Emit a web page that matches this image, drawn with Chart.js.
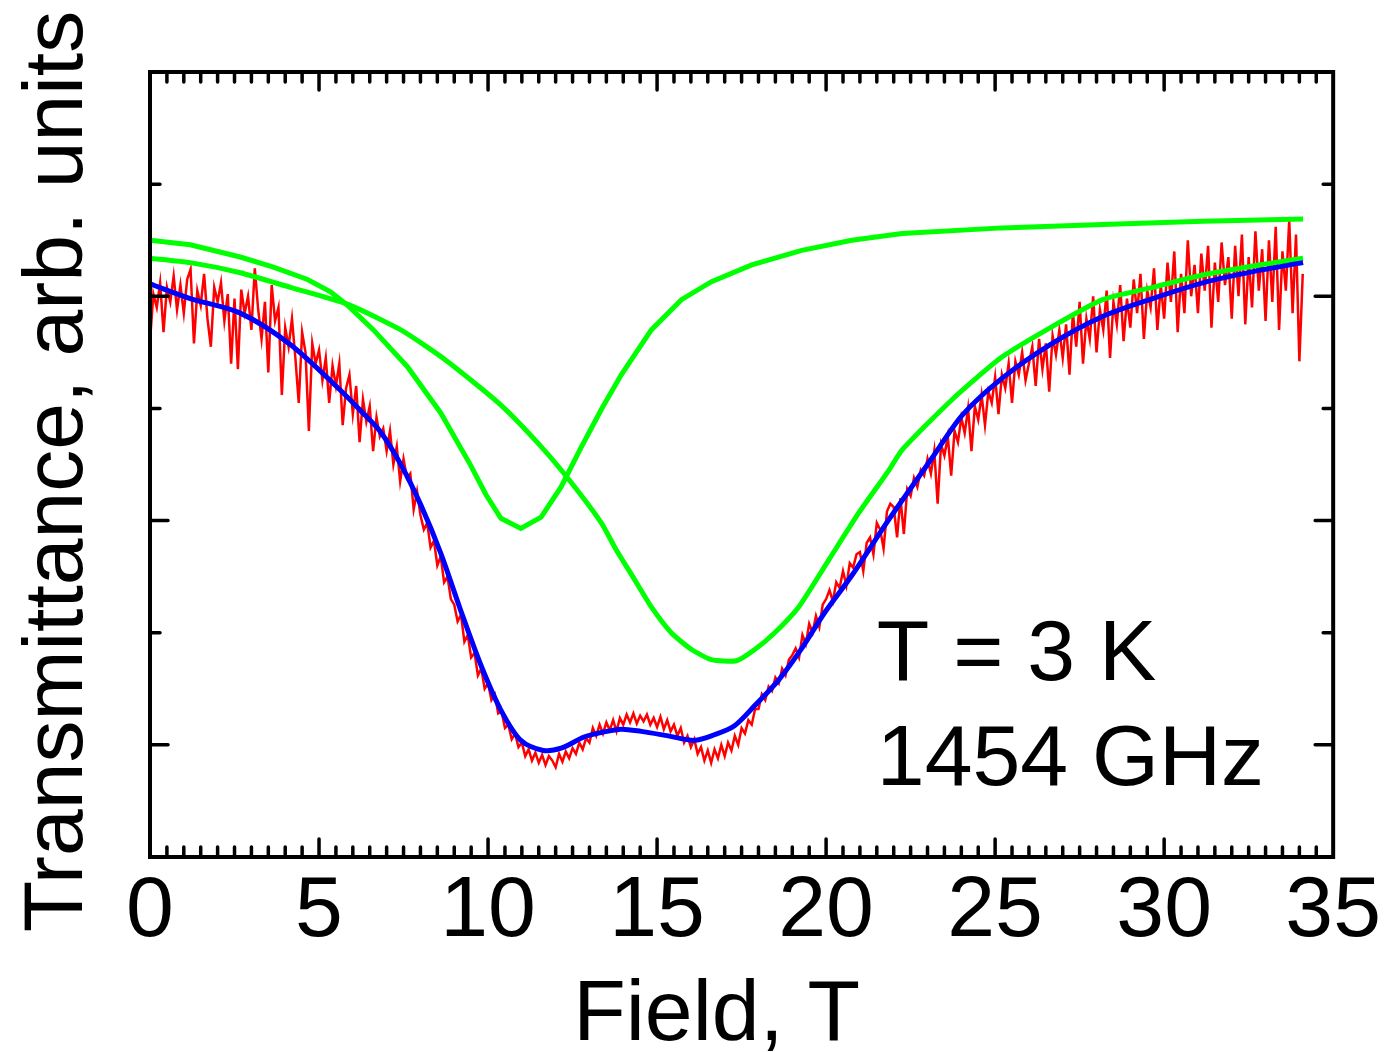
<!DOCTYPE html>
<html>
<head>
<meta charset="utf-8">
<script src="https://cdn.jsdelivr.net/npm/chart.js@4.4.1/dist/chart.umd.min.js"></script>
<style>
  html, body { margin: 0; padding: 0; background: #fff; }
  #wrap { width: 1385px; height: 1052px; }
</style>
</head>
<body>
<div id="wrap"><canvas id="chart"></canvas></div>
<script>
// measured transmittance, sampled every 0.1 T from 0 T
const measuredStart = 0
const measuredStep = 0.1
const measuredValue = [
  4.60, 5.02, 4.90, 5.12, 4.68, 5.08, 4.95, 5.18, 4.88, 5.10,
  4.85, 5.15, 5.24, 4.58, 5.05, 4.92, 5.20, 4.80, 4.55, 5.08,
  4.95, 5.12, 4.78, 5.02, 4.40, 4.98, 4.35, 5.06, 4.85, 5.00,
  4.70, 5.25, 4.88, 4.62, 4.95, 4.32, 5.10, 4.78, 4.90, 4.12,
  4.72, 4.55, 4.80, 4.45, 4.05, 4.68, 4.50, 3.80, 4.58, 4.40,
  4.52, 4.25, 4.45, 4.05, 4.38, 4.20, 4.40, 3.85, 4.18, 4.30,
  3.95, 4.20, 3.70, 4.08, 3.88, 4.02, 3.62, 3.92, 3.75, 3.82,
  3.62, 3.80, 3.50, 3.66, 3.35, 3.55, 3.38, 3.42, 3.10, 3.26,
  3.05, 2.92, 2.98, 2.76, 2.82, 2.60, 2.68, 2.45, 2.50, 2.30,
  2.25, 2.10, 2.16, 1.92, 1.98, 1.78, 1.82, 1.62, 1.68, 1.50,
  1.55, 1.40, 1.45, 1.28, 1.30, 1.15, 1.18, 1.05, 1.10, 0.98,
  1.02, 0.90, 0.96, 0.86, 0.93, 0.84, 0.91, 0.82, 0.90, 0.86,
  0.80, 0.92, 0.85, 0.94, 0.88, 0.97, 0.92, 1.02, 0.96, 1.06,
  1.02, 1.15, 1.08, 1.18, 1.10, 1.20, 1.13, 1.22, 1.12, 1.24,
  1.18, 1.27, 1.20, 1.28, 1.19, 1.26, 1.21, 1.27, 1.18, 1.24,
  1.16, 1.25, 1.14, 1.22, 1.12, 1.18, 1.08, 1.15, 1.02, 1.08,
  0.98, 1.05, 0.92, 0.98, 0.86, 0.95, 0.84, 0.96, 0.88, 1.00,
  0.90, 1.02, 0.95, 1.08, 1.00, 1.15, 1.10, 1.22, 1.18, 1.32,
  1.32, 1.45, 1.40, 1.52, 1.48, 1.60, 1.55, 1.68, 1.62, 1.76,
  1.80, 1.86, 1.78, 1.98, 1.90, 2.08, 2.00, 2.15, 2.05, 2.25,
  2.30, 2.38, 2.28, 2.45, 2.40, 2.55, 2.42, 2.62, 2.58, 2.70,
  2.72, 2.55, 2.80, 2.85, 2.70, 2.98, 2.92, 2.75, 3.08, 3.15,
  3.12, 2.85, 3.20, 2.88, 3.28, 3.22, 3.38, 3.30, 3.45, 3.40,
  3.55, 3.42, 3.62, 3.15, 3.68, 3.58, 3.75, 3.40, 3.80, 3.70,
  3.92, 3.78, 4.00, 3.62, 4.02, 3.90, 4.12, 3.85, 4.15, 4.05,
  4.28, 3.95, 4.30, 4.18, 4.40, 4.05, 4.42, 4.30, 4.50, 4.25,
  4.40, 4.55, 4.20, 4.62, 4.35, 4.58, 4.15, 4.65, 4.48, 4.70,
  4.45, 4.75, 4.30, 4.85, 4.55, 4.95, 4.40, 4.80, 4.62, 5.00,
  4.50, 4.88, 4.70, 5.05, 4.45, 4.95, 4.75, 5.10, 4.60, 4.98,
  4.72, 5.15, 4.85, 5.20, 4.62, 5.05, 4.90, 5.25, 4.70, 5.10,
  4.80, 5.30, 4.95, 5.40, 4.68, 5.20, 4.85, 5.50, 5.00, 5.28,
  4.85, 5.38, 5.05, 5.45, 4.72, 5.30, 4.95, 5.48, 5.10, 5.35,
  4.80, 5.45, 5.00, 5.55, 4.75, 5.35, 4.90, 5.58, 5.05, 5.42,
  4.78, 5.50, 4.95, 5.62, 4.70, 5.40, 5.05, 5.68, 4.85, 5.55,
  4.42, 5.20
]

// total fit (blue)
const fitField = [0, 1.19, 2.67, 4.15, 5.64, 6.23, 6.82, 7.42, 8.01, 8.60, 9.19, 9.79, 10.38, 10.97, 11.63, 12.16, 12.84, 13.35, 13.94, 14.53, 15.33, 16.11, 16.70, 17.29, 17.89, 18.60, 19.28, 19.96, 20.76, 21.86, 23.14, 24.03, 25.21, 26.69, 28.18, 29.66, 31.14, 32.63, 34.11]
const fitValue = [5.11, 4.98, 4.85, 4.57, 4.16, 3.98, 3.79, 3.50, 3.14, 2.71, 2.20, 1.71, 1.31, 1.04, 0.95, 0.97, 1.07, 1.11, 1.14, 1.12, 1.08, 1.04, 1.09, 1.17, 1.35, 1.58, 1.86, 2.18, 2.51, 3.01, 3.56, 3.94, 4.27, 4.58, 4.82, 4.98, 5.12, 5.22, 5.30]

// single components (green)
const lineAField = [0, 1.19, 2.67, 3.65, 4.66, 5.34, 5.84, 6.61, 7.62, 8.60, 9.49, 9.94, 10.38, 10.97, 11.57, 12.16, 12.75, 13.35, 13.94, 14.83, 15.72, 16.61, 17.80, 19.28, 20.76, 22.25, 25.21, 28.18, 31.14, 34.11]
const lineAValue = [5.50, 5.46, 5.35, 5.26, 5.15, 5.04, 4.92, 4.70, 4.37, 3.96, 3.49, 3.23, 3.02, 2.93, 3.03, 3.30, 3.65, 3.99, 4.30, 4.70, 4.97, 5.13, 5.28, 5.41, 5.50, 5.56, 5.61, 5.64, 5.67, 5.69]

const lineBField = [0, 1.19, 2.67, 4.15, 5.84, 7.42, 8.75, 10.38, 11.57, 12.46, 13.35, 13.79, 14.24, 14.83, 15.42, 16.02, 16.61, 17.35, 17.89, 18.48, 19.19, 20.08, 20.97, 21.86, 22.25, 23.73, 25.21, 26.69, 28.18, 29.66, 31.14, 32.63, 34.11]
const lineBValue = [5.34, 5.30, 5.21, 5.08, 4.93, 4.70, 4.43, 4.03, 3.66, 3.34, 2.98, 2.74, 2.52, 2.23, 2.00, 1.85, 1.76, 1.75, 1.85, 2.00, 2.23, 2.65, 3.07, 3.45, 3.63, 4.08, 4.46, 4.73, 4.97, 5.08, 5.19, 5.27, 5.34]

const fieldMin = 0
const fieldMax = 35
const fieldStep = 5
const fieldMinorStep = 0.5
const valueMin = 0
const valueMax = 7

const xTitle = 'Field, T'
const yTitle = 'Transmittance, arb. units'
const noteLines = ['T = 3 K', '1454 GHz']
const noteField = 21.5
const noteValue = [1.58, 0.64]

const FONT = "'Liberation Sans', Arial, sans-serif"
const SIZE = 86

const pairs = (xs, ys) => xs.map((x, i) => ({ x, y: ys[i] }))
const measured = measuredValue.map((y, i) => ({ x: measuredStart + i * measuredStep, y }))

// inward ticks on all four sides, the frame and the texts
const frameTicks = {
  id: 'frameTicks',
  afterDatasetsDraw (chart) {
    const { ctx, chartArea: a, scales: { x, y } } = chart
    ctx.save()
    ctx.strokeStyle = '#000'
    ctx.lineCap = 'round'
    ctx.lineWidth = 3.5
    ctx.beginPath()
    for (let v = fieldMin + fieldMinorStep; v < fieldMax; v += fieldMinorStep) {
      const px = x.getPixelForValue(v)
      const len = v % fieldStep === 0 ? 18 : 10
      ctx.moveTo(px, a.bottom)
      ctx.lineTo(px, a.bottom - len)
      ctx.moveTo(px, a.top)
      ctx.lineTo(px, a.top + len)
    }
    for (let v = valueMin + 1; v < valueMax; v++) {
      const py = y.getPixelForValue(v)
      const len = v % 2 === 1 ? 18 : 10
      ctx.moveTo(a.left, py)
      ctx.lineTo(a.left + len, py)
      ctx.moveTo(a.right, py)
      ctx.lineTo(a.right - len, py)
    }
    ctx.stroke()
    ctx.lineCap = 'square'
    ctx.lineWidth = 4
    ctx.strokeRect(a.left, a.top, a.right - a.left, a.bottom - a.top)

    ctx.fillStyle = '#000'
    ctx.font = SIZE + 'px ' + FONT
    ctx.textBaseline = 'alphabetic'
    ctx.textAlign = 'left'
    noteLines.forEach((t, i) => {
      ctx.fillText(t, x.getPixelForValue(noteField), y.getPixelForValue(noteValue[i]))
    })

    ctx.textAlign = 'center'
    ctx.fillText(xTitle, (a.left + a.right) / 2 - 25, chart.height - 12)

    ctx.font = '84px ' + FONT
    ctx.translate(82, (a.top + a.bottom) / 2 + 7)
    ctx.rotate(-Math.PI / 2)
    ctx.fillText(yTitle, 0, 0)
    ctx.restore()
  }
}

const line = (data, color, width, tension) => ({
  data,
  borderColor: color,
  backgroundColor: color,
  borderWidth: width,
  pointRadius: 0,
  fill: false,
  tension
})

new Chart(document.getElementById('chart'), {
  type: 'line',
  data: {
    datasets: [
      line(pairs(fitField, fitValue), '#0000ff', 5, 0.3),
      line(pairs(lineAField, lineAValue), '#00ff00', 5, 0),
      line(pairs(lineBField, lineBValue), '#00ff00', 5, 0.2),
      line(measured, '#ff0000', 2.5, 0)
    ]
  },
  options: {
    responsive: true,
    maintainAspectRatio: false,
    animation: false,
    layout: { padding: { top: 72, right: 50, left: 0, bottom: 0 } },
    plugins: { legend: { display: false }, tooltip: { enabled: false } },
    scales: {
      x: {
        type: 'linear',
        min: fieldMin,
        max: fieldMax,
        afterFit (scale) { scale.height = 195 },
        grid: { display: false, drawTicks: false },
        border: { display: false },
        ticks: {
          stepSize: fieldStep,
          color: '#000',
          padding: 4,
          maxRotation: 0,
          font: { size: SIZE, family: FONT }
        }
      },
      y: {
        type: 'linear',
        min: valueMin,
        max: valueMax,
        afterFit (scale) { scale.width = 150 },
        grid: { display: false, drawTicks: false },
        border: { display: false },
        ticks: { display: false }
      }
    }
  },
  plugins: [frameTicks]
})
</script>
</body>
</html>
